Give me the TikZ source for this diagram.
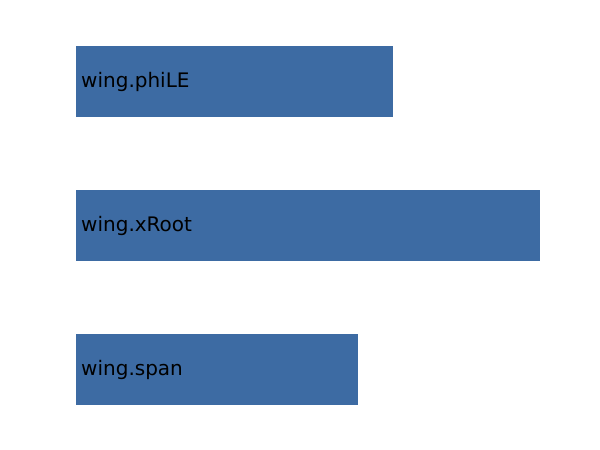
\documentclass[tikz,border=0pt]{standalone}
\usepackage{fontspec}
\setmainfont{DejaVu Sans}
\definecolor{barblue}{HTML}{3D6BA3}
\tikzset{bar/.style={fill=barblue,draw=none,inner sep=0pt},
lab/.style={anchor=west,font=\fontsize{20}{22}\selectfont,text=black,inner sep=0pt}}
\begin{document}
\begin{tikzpicture}[x=1pt,y=-1pt]
\useasboundingbox[fill=white] (0,0) rectangle (600,450);
\path[bar] (76,46) rectangle (393,116.5);
\path[bar] (76,190) rectangle (540,260.5);
\path[bar] (76,334) rectangle (358,404.5);
\node[lab] (a) at (81,82) {wing.phiLE};
\node[lab] (b) at (81,226) {wing.xRoot};
\node[lab] (c) at (81,370) {wing.span};
\end{tikzpicture}
\end{document}
